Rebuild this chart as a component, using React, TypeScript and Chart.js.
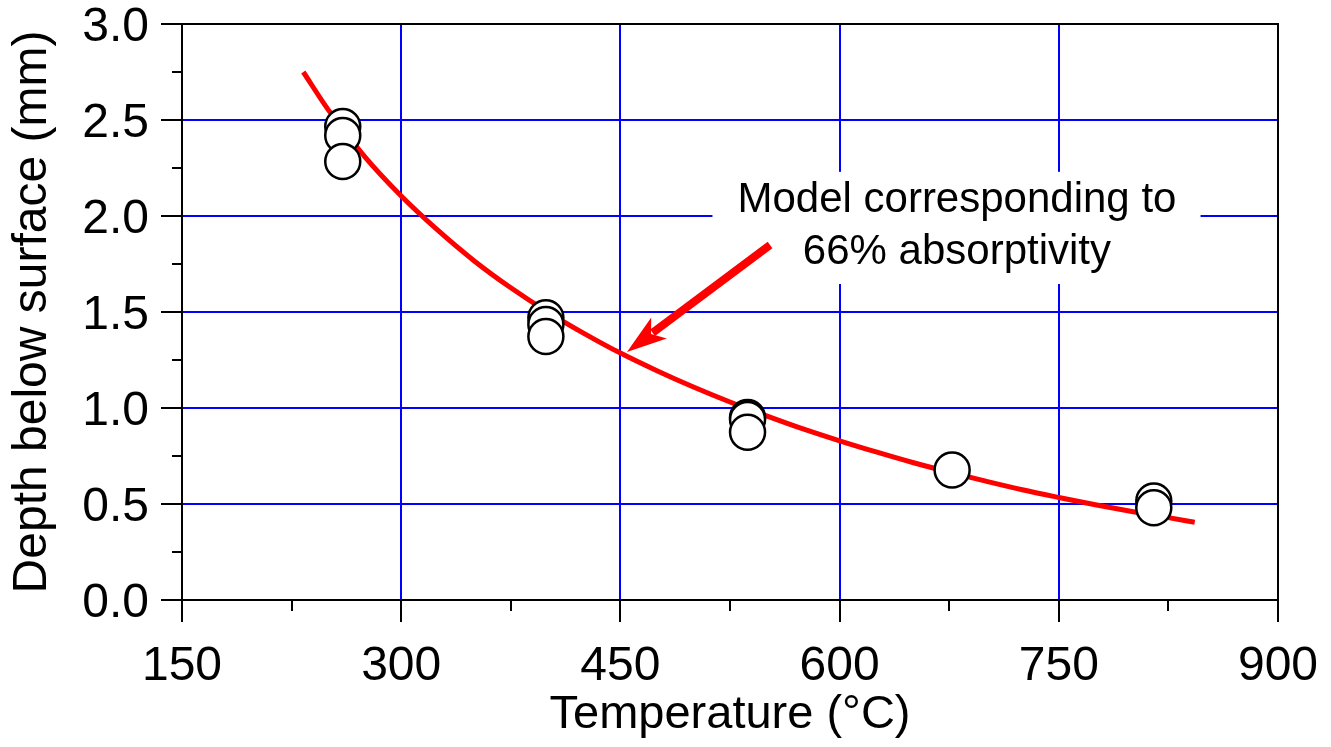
import React, { useEffect, useRef } from "react";
import { Chart, registerables } from "chart.js";

Chart.register(...registerables);

// Measured data (temperature in °C, depth in mm)
const measuredTemp = [260, 260, 260, 399, 399, 399, 537, 537, 537, 677, 815, 815];
const measuredDepth = [2.466, 2.419, 2.284, 1.47, 1.435, 1.372, 0.95, 0.94, 0.874, 0.677, 0.516, 0.48];

// Model curve (66% absorptivity)
const modelTemp = [233, 250, 275, 300, 325, 350, 375, 400, 425, 450, 475, 500, 525, 550, 575, 600, 625, 650, 675, 700, 725, 750, 775, 800, 825, 843];
const modelDepth = [2.75, 2.554, 2.309, 2.104, 1.926, 1.766, 1.626, 1.501, 1.389, 1.286, 1.194, 1.109, 1.031, 0.959, 0.891, 0.829, 0.771, 0.716, 0.666, 0.619, 0.574, 0.534, 0.496, 0.461, 0.429, 0.405];

const xTicks = [150, 300, 450, 600, 750, 900];
const yTicks = [0, 0.5, 1.0, 1.5, 2.0, 2.5, 3.0];

const annotationLines = ["Model corresponding to", "66% absorptivity"];
const annotationTextX = 680.3;
const annotationTextY = [2.02, 1.75];
const annotationBoxX = [513, 847];
const annotationBoxY = [1.646, 2.23];
const arrowTail = { x: 552.4, y: 1.849 };
const arrowTip = { x: 454.5, y: 1.292 };

const FONT = "'Liberation Sans', Arial, Helvetica, sans-serif";

const framePlugin = {
  id: "frameAndTicks",
  afterDraw(chart: any) {
    const { ctx, chartArea, scales } = chart;
    const xs = scales.x;
    const ys = scales.y;
    ctx.save();
    // annotation box
    const bx0 = xs.getPixelForValue(annotationBoxX[0]);
    const bx1 = xs.getPixelForValue(annotationBoxX[1]);
    const by0 = ys.getPixelForValue(annotationBoxY[1]);
    const by1 = ys.getPixelForValue(annotationBoxY[0]);
    ctx.fillStyle = "#ffffff";
    ctx.fillRect(bx0, by0, bx1 - bx0, by1 - by0);
    ctx.fillStyle = "#000000";
    ctx.font = `42px ${FONT}`;
    ctx.textAlign = "center";
    ctx.textBaseline = "alphabetic";
    annotationLines.forEach((t, i) => {
      ctx.fillText(t, xs.getPixelForValue(annotationTextX), ys.getPixelForValue(annotationTextY[i]));
    });
    // arrow
    const tx = xs.getPixelForValue(arrowTail.x);
    const ty = ys.getPixelForValue(arrowTail.y);
    const px = xs.getPixelForValue(arrowTip.x);
    const py = ys.getPixelForValue(arrowTip.y);
    const dx = px - tx;
    const dy = py - ty;
    const len = Math.hypot(dx, dy);
    const ux = dx / len;
    const uy = dy / len;
    const nx = -uy;
    const ny = ux;
    const L = 40;
    const W = 13;
    const notch = 30;
    ctx.strokeStyle = "#ff0000";
    ctx.lineWidth = 8;
    ctx.lineCap = "butt";
    ctx.beginPath();
    ctx.moveTo(tx, ty);
    ctx.lineTo(px - ux * (notch + 2), py - uy * (notch + 2));
    ctx.stroke();
    ctx.fillStyle = "#ff0000";
    ctx.beginPath();
    ctx.moveTo(px, py);
    ctx.lineTo(px - ux * L + nx * W, py - uy * L + ny * W);
    ctx.lineTo(px - ux * notch, py - uy * notch);
    ctx.lineTo(px - ux * L - nx * W, py - uy * L - ny * W);
    ctx.closePath();
    ctx.fill();

    // top & right frame
    ctx.strokeStyle = "#000000";
    ctx.lineWidth = 2;
    ctx.beginPath();
    ctx.moveTo(chartArea.left, chartArea.top);
    ctx.lineTo(chartArea.right, chartArea.top);
    ctx.lineTo(chartArea.right, chartArea.bottom);
    ctx.stroke();
    // tick marks outside
    ctx.beginPath();
    for (let v = 150; v <= 900; v += 75) {
      const major = v % 150 === 0;
      const p = Math.round(xs.getPixelForValue(v));
      ctx.moveTo(p, chartArea.bottom);
      ctx.lineTo(p, chartArea.bottom + (major ? 22 : 11));
    }
    for (let i = 0; i <= 12; i++) {
      const v = i * 0.25;
      const major = i % 2 === 0;
      const p = Math.round(ys.getPixelForValue(v));
      ctx.moveTo(chartArea.left, p);
      ctx.lineTo(chartArea.left - (major ? 21 : 10), p);
    }
    ctx.stroke();
    ctx.restore();
  },
};

export default function App() {
  const ref = useRef<HTMLCanvasElement>(null);
  useEffect(() => {
    if (!ref.current) return;
    const chart = new Chart(ref.current, {
      type: "scatter",
      data: {
        datasets: [
          {
            type: "scatter",
            label: "Measured",
            data: measuredTemp.map((t, i) => ({ x: t, y: measuredDepth[i] })),
            pointRadius: 17.5,
            pointHoverRadius: 17.5,
            pointBackgroundColor: "#ffffff",
            pointBorderColor: "#000000",
            pointBorderWidth: 2.5,
            order: 0,
          },
          {
            type: "line",
            label: "Model",
            data: modelTemp.map((t, i) => ({ x: t, y: modelDepth[i] })),
            borderColor: "#ff0000",
            borderWidth: 5,
            pointRadius: 0,
            cubicInterpolationMode: "monotone",
            fill: false,
            order: 1,
          } as any,
        ],
      },
      options: {
        responsive: false,
        animation: false,
        layout: { padding: { top: 24, right: 53, left: 0, bottom: 0 } },
        plugins: { legend: { display: false }, tooltip: { enabled: false } },
        scales: {
          x: {
            type: "linear",
            min: 150,
            max: 900,
            afterBuildTicks: (s: any) => {
              s.ticks = xTicks.map((v) => ({ value: v }));
            },
            afterFit: (s: any) => {
              s.height = 147;
              s.paddingLeft = 0;
              s.paddingRight = 0;
              s.paddingTop = 0;
              s.paddingBottom = 0;
            },
            ticks: {
              stepSize: 150,
              color: "#000",
              padding: 38,
              font: { family: FONT, size: 48 },
              maxRotation: 0,
            },
            grid: {
              drawTicks: false,
              lineWidth: 2,
              color: (c: any) =>
                c.tick && (c.tick.value === 150 || c.tick.value === 900) ? "rgba(0,0,0,0)" : "#0000ff",
            },
            border: { display: true, color: "#000", width: 2 },
            title: {
              display: true,
              text: "Temperature (°C)",
              color: "#000",
              font: { family: FONT, size: 47 },
              padding: { top: 0, bottom: 4 },
            },
          },
          y: {
            type: "linear",
            min: 0,
            max: 3,
            afterBuildTicks: (s: any) => {
              s.ticks = yTicks.map((v) => ({ value: v }));
            },
            afterFit: (s: any) => {
              s.width = 182;
              s.paddingLeft = 0;
              s.paddingRight = 0;
              s.paddingTop = 0;
              s.paddingBottom = 0;
            },
            ticks: {
              stepSize: 0.5,
              color: "#000",
              padding: 33,
              labelOffset: 4,
              font: { family: FONT, size: 48 },
              callback: (v: any) => Number(v).toFixed(1),
            },
            grid: {
              drawTicks: false,
              lineWidth: 2,
              color: (c: any) =>
                c.tick && (c.tick.value === 0 || c.tick.value === 3) ? "rgba(0,0,0,0)" : "#0000ff",
            },
            border: { display: true, color: "#000", width: 2 },
            title: {
              display: true,
              text: "Depth below surface (mm)",
              color: "#000",
              font: { family: FONT, size: 48 },
              padding: { top: 4, bottom: 0 },
            },
          },
        },
      },
      plugins: [framePlugin],
    });
    return () => chart.destroy();
  }, []);
  return (
    <div style={{ position: "absolute", left: 0, top: 0, width: 1331, height: 747, background: "#fff" }}>
      <canvas ref={ref} width={1331} height={747} style={{ display: "block" }} />
    </div>
  );
}
